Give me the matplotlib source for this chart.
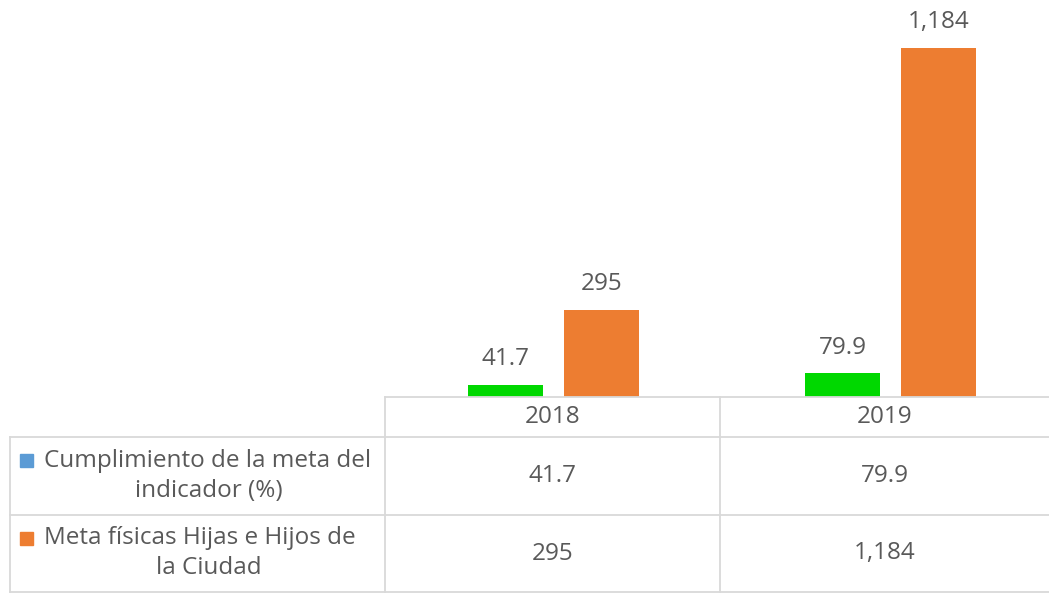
import matplotlib
matplotlib.use("Agg")
import matplotlib.pyplot as plt
from matplotlib.lines import Line2D
from matplotlib.patches import Rectangle
import numpy as np

years = ["2018", "2019"]
cumplimiento = [41.7, 79.9]
meta_fisica = [295, 1184]
series_labels = ["Cumplimiento de la meta del\nindicador (%)",
                 "Meta físicas Hijas e Hijos de\nla Ciudad"]
value_labels = [["41.7", "79.9"], ["295", "1,184"]]

W, H = 1049, 598
plt.rcParams['font.family'] = ['Open Sans', 'DejaVu Sans']
TXT = "#595959"
GRID = "#d9d9d9"
GREEN = "#00d800"
ORANGE = "#ed7d31"
BLUE = "#5b9bd5"
FS = 17.5

fig = plt.figure(figsize=(W / 100, H / 100), dpi=100)

def fx(px):
    return px / W

def fy(py):
    return 1 - py / H

# bar axes
ax_left, ax_w, ax_base, ax_top = 385, 674, 397, 0
ax = fig.add_axes([fx(ax_left), fy(ax_base), fx(ax_w), (ax_base - ax_top) / H])
x = np.arange(len(years))
bw = 0.222
off = 0.1425
b1 = ax.bar(x - off, cumplimiento, bw, color=GREEN)
b2 = ax.bar(x + off, meta_fisica, bw, color=ORANGE)
ax.set_xlim(-0.5, len(years) - 0.5)
ax.set_ylim(0, max(meta_fisica) * 397 / 349)
for bars, labs in [(b1, value_labels[0]), (b2, value_labels[1])]:
    for rect, lab in zip(bars, labs):
        ax.annotate(lab, (rect.get_x() + rect.get_width() / 2, rect.get_height()),
                    xytext=(0, 10), textcoords="offset points", ha="center", va="bottom",
                    fontsize=FS, color=TXT)
ax.axis("off")

# table lines
col_x = [10, 385, 720, 1049]
row_y = [397, 437, 515, 592]

def hline(y, x0, x1):
    fig.add_artist(Line2D([fx(x0), fx(x1)], [fy(y), fy(y)], color=GRID, lw=1.3))

def vline(x0, y0, y1):
    fig.add_artist(Line2D([fx(x0), fx(x0)], [fy(y0), fy(y1)], color=GRID, lw=1.3))

hline(row_y[0], col_x[1], col_x[3])
for y in row_y[1:]:
    hline(y, col_x[0], col_x[3])
vline(col_x[0], row_y[1], row_y[3])
vline(col_x[1], row_y[0], row_y[3])
vline(col_x[2], row_y[0], row_y[3])

# header
for i, yr in enumerate(years):
    cx = (col_x[1 + i] + col_x[2 + i]) / 2
    fig.text(fx(cx), fy((row_y[0] + row_y[1]) / 2), yr, ha="center", va="center",
             fontsize=FS, color=TXT)

# rows
colors = [BLUE, ORANGE]
for r in range(2):
    y0, y1 = row_y[1 + r], row_y[2 + r]
    cy = (y0 + y1) / 2
    for i in range(len(years)):
        cx = (col_x[1 + i] + col_x[2 + i]) / 2
        fig.text(fx(cx), fy(cy), value_labels[r][i], ha="center", va="center",
                 fontsize=FS, color=TXT)
    line1, line2 = series_labels[r].split("\n")
    fig.text(fx(44), fy(cy - 15), line1, ha="left", va="center", fontsize=FS, color=TXT)
    fig.text(fx(209), fy(cy + 15), line2, ha="center", va="center", fontsize=FS, color=TXT)
    fig.add_artist(Rectangle((fx(20), fy(cy - 9)), fx(13), 13 / H, color=colors[r]))

fig.savefig("out.png", dpi=100, facecolor="white")
